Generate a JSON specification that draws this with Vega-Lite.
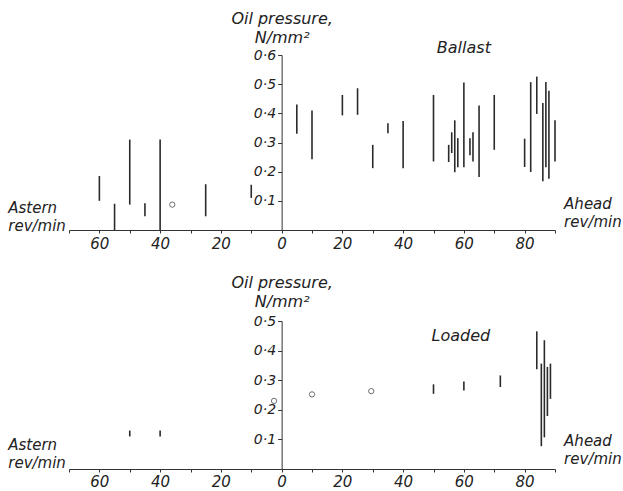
{
  "$schema": "https://vega.github.io/schema/vega-lite/v6.json",
  "background": "white",
  "padding": {"left": 8, "top": 10, "right": 0, "bottom": 0},
  "spacing": 23,
  "config": {
    "view": {"stroke": null},
    "font": "DejaVu Sans",
    "text": {"font": "DejaVu Sans", "fontStyle": "italic", "fontSize": 16, "color": "#222"},
    "axis": {
      "grid": false,
      "domainColor": "#333",
      "tickColor": "#333",
      "labelColor": "#222",
      "titleColor": "#222",
      "labelFont": "DejaVu Sans",
      "titleFont": "DejaVu Sans",
      "labelFontStyle": "italic",
      "titleFontStyle": "italic",
      "titleFontWeight": "normal",
      "labelOverlap": false,
      "labelBound": false,
      "zindex": 1
    }
  },
  "datasets": {
    "ballast_ranges": [
      {"rpm": -60, "low": 0.1, "high": 0.185},
      {"rpm": -55, "low": 0.0, "high": 0.09},
      {"rpm": -50, "low": 0.087, "high": 0.31},
      {"rpm": -45, "low": 0.047, "high": 0.092},
      {"rpm": -40, "low": 0.0, "high": 0.31},
      {"rpm": -25, "low": 0.047, "high": 0.157},
      {"rpm": -10, "low": 0.11, "high": 0.155},
      {"rpm": 5, "low": 0.33, "high": 0.43},
      {"rpm": 10, "low": 0.243, "high": 0.41},
      {"rpm": 20, "low": 0.393, "high": 0.463},
      {"rpm": 25, "low": 0.395, "high": 0.486},
      {"rpm": 30, "low": 0.212, "high": 0.292},
      {"rpm": 35, "low": 0.332, "high": 0.366},
      {"rpm": 40, "low": 0.212, "high": 0.374},
      {"rpm": 50, "low": 0.235, "high": 0.463},
      {"rpm": 55, "low": 0.233, "high": 0.292},
      {"rpm": 56, "low": 0.264, "high": 0.335},
      {"rpm": 57, "low": 0.198, "high": 0.376},
      {"rpm": 58, "low": 0.215, "high": 0.315},
      {"rpm": 60, "low": 0.215, "high": 0.506},
      {"rpm": 62, "low": 0.256, "high": 0.315},
      {"rpm": 63, "low": 0.235, "high": 0.335},
      {"rpm": 65, "low": 0.182, "high": 0.427},
      {"rpm": 70, "low": 0.275, "high": 0.463},
      {"rpm": 80, "low": 0.216, "high": 0.313},
      {"rpm": 82, "low": 0.199, "high": 0.507},
      {"rpm": 84, "low": 0.398, "high": 0.526},
      {"rpm": 86, "low": 0.167, "high": 0.435},
      {"rpm": 87, "low": 0.215, "high": 0.507},
      {"rpm": 88, "low": 0.176, "high": 0.477},
      {"rpm": 90, "low": 0.235, "high": 0.376}
    ],
    "ballast_points": [
      {"rpm": -36, "pressure": 0.087}
    ],
    "loaded_ranges": [
      {"rpm": -50, "low": 0.11, "high": 0.13},
      {"rpm": -40, "low": 0.11, "high": 0.13},
      {"rpm": 50, "low": 0.254, "high": 0.286},
      {"rpm": 60, "low": 0.265, "high": 0.296},
      {"rpm": 72, "low": 0.277, "high": 0.316},
      {"rpm": 84, "low": 0.337, "high": 0.465},
      {"rpm": 85.5, "low": 0.077, "high": 0.356},
      {"rpm": 86.5, "low": 0.107, "high": 0.435},
      {"rpm": 87.5, "low": 0.179, "high": 0.345},
      {"rpm": 88.5, "low": 0.237, "high": 0.356}
    ],
    "loaded_points": [
      {"rpm": -2.5, "pressure": 0.23},
      {"rpm": 10, "pressure": 0.252},
      {"rpm": 29.5, "pressure": 0.263}
    ],
    "one": [{}]
  },
  "vconcat": [
    {
      "width": 486,
      "height": 175,
      "layer": [
        {
          "data": {"name": "ballast_ranges"},
          "mark": {"type": "rule", "strokeWidth": 1.6, "color": "#2a2a2a"},
          "encoding": {
            "x": {
              "field": "rpm", "type": "quantitative",
              "scale": {"domain": [-70, 90], "nice": false, "zero": false},
              "axis": {
                "title": null,
                "values": [-70, -60, -50, -40, -30, -20, -10, 0, 10, 20, 30, 40, 50, 60, 70, 80, 90],
                "tickCount": 100,
                "labelExpr": "datum.value % 20 == 0 ? '' + abs(datum.value) : ''",
                "labelOverlap": false,
                "tickSize": 3, "labelPadding": 3, "labelFontSize": 15, "labelFlush": false
              }
            },
            "y": {
              "field": "low", "type": "quantitative",
              "scale": {"domain": [0, 0.6], "nice": false},
              "axis": {
                "values": [0.1, 0.2, 0.3, 0.4, 0.5, 0.6],
                "tickCount": 100,
                "labelExpr": "replace(format(datum.value, '.1f'), '.', '·')",
                "labelOverlap": false,
                "offset": -212.625,
                "tickSize": 4, "labelPadding": 2, "labelFontSize": 14,
                "title": ["Oil pressure,", "N/mm²"],
                "titleAngle": 0, "titleX": 0, "titleY": -32,
                "titleAlign": "center", "titleBaseline": "alphabetic",
                "titleFontSize": 16, "titleLineHeight": 19
              }
            },
            "y2": {"field": "high"}
          }
        },
        {
          "data": {"name": "ballast_points"},
          "mark": {"type": "point", "shape": "circle", "size": 28, "filled": false, "strokeWidth": 1, "color": "#333"},
          "encoding": {
            "x": {"field": "rpm", "type": "quantitative"},
            "y": {"field": "pressure", "type": "quantitative"}
          }
        },
        {
          "data": {"name": "one"},
          "mark": {"type": "text", "align": "center", "baseline": "alphabetic"},
          "encoding": {"x": {"datum": 60}, "y": {"datum": 0.606}, "text": {"value": "Ballast"}}
        },
        {
          "data": {"name": "one"},
          "mark": {"type": "text", "align": "left", "baseline": "alphabetic", "fontSize": 15, "lineHeight": 18},
          "encoding": {"x": {"datum": -90}, "y": {"datum": 0.058}, "text": {"value": ["Astern", "rev/min"]}}
        },
        {
          "data": {"name": "one"},
          "mark": {"type": "text", "align": "left", "baseline": "alphabetic", "fontSize": 15, "lineHeight": 18},
          "encoding": {"x": {"datum": 93}, "y": {"datum": 0.072}, "text": {"value": ["Ahead", "rev/min"]}}
        }
      ]
    },
    {
      "width": 486,
      "height": 148,
      "layer": [
        {
          "data": {"name": "loaded_ranges"},
          "mark": {"type": "rule", "strokeWidth": 1.6, "color": "#2a2a2a"},
          "encoding": {
            "x": {
              "field": "rpm", "type": "quantitative",
              "scale": {"domain": [-70, 90], "nice": false, "zero": false},
              "axis": {
                "title": null,
                "values": [-70, -60, -50, -40, -30, -20, -10, 0, 10, 20, 30, 40, 50, 60, 70, 80, 90],
                "tickCount": 100,
                "labelExpr": "datum.value % 20 == 0 ? '' + abs(datum.value) : ''",
                "labelOverlap": false,
                "tickSize": 3, "labelPadding": 2, "labelFontSize": 15, "labelFlush": false
              }
            },
            "y": {
              "field": "low", "type": "quantitative",
              "scale": {"domain": [0, 0.5], "nice": false},
              "axis": {
                "values": [0.1, 0.2, 0.3, 0.4, 0.5],
                "tickCount": 100,
                "labelExpr": "replace(format(datum.value, '.1f'), '.', '·')",
                "labelOverlap": false,
                "offset": -212.625,
                "tickSize": 4, "labelPadding": 2, "labelFontSize": 14,
                "title": ["Oil pressure,", "N/mm²"],
                "titleAngle": 0, "titleX": 0, "titleY": -34,
                "titleAlign": "center", "titleBaseline": "alphabetic",
                "titleFontSize": 16, "titleLineHeight": 19
              }
            },
            "y2": {"field": "high"}
          }
        },
        {
          "data": {"name": "loaded_points"},
          "mark": {"type": "point", "shape": "circle", "size": 28, "filled": false, "strokeWidth": 1, "color": "#333"},
          "encoding": {
            "x": {"field": "rpm", "type": "quantitative"},
            "y": {"field": "pressure", "type": "quantitative"}
          }
        },
        {
          "data": {"name": "one"},
          "mark": {"type": "text", "align": "center", "baseline": "alphabetic"},
          "encoding": {"x": {"datum": 59}, "y": {"datum": 0.434}, "text": {"value": "Loaded"}}
        },
        {
          "data": {"name": "one"},
          "mark": {"type": "text", "align": "left", "baseline": "alphabetic", "fontSize": 15, "lineHeight": 18},
          "encoding": {"x": {"datum": -90}, "y": {"datum": 0.064}, "text": {"value": ["Astern", "rev/min"]}}
        },
        {
          "data": {"name": "one"},
          "mark": {"type": "text", "align": "left", "baseline": "alphabetic", "fontSize": 15, "lineHeight": 18},
          "encoding": {"x": {"datum": 93}, "y": {"datum": 0.078}, "text": {"value": ["Ahead", "rev/min"]}}
        }
      ]
    }
  ]
}
